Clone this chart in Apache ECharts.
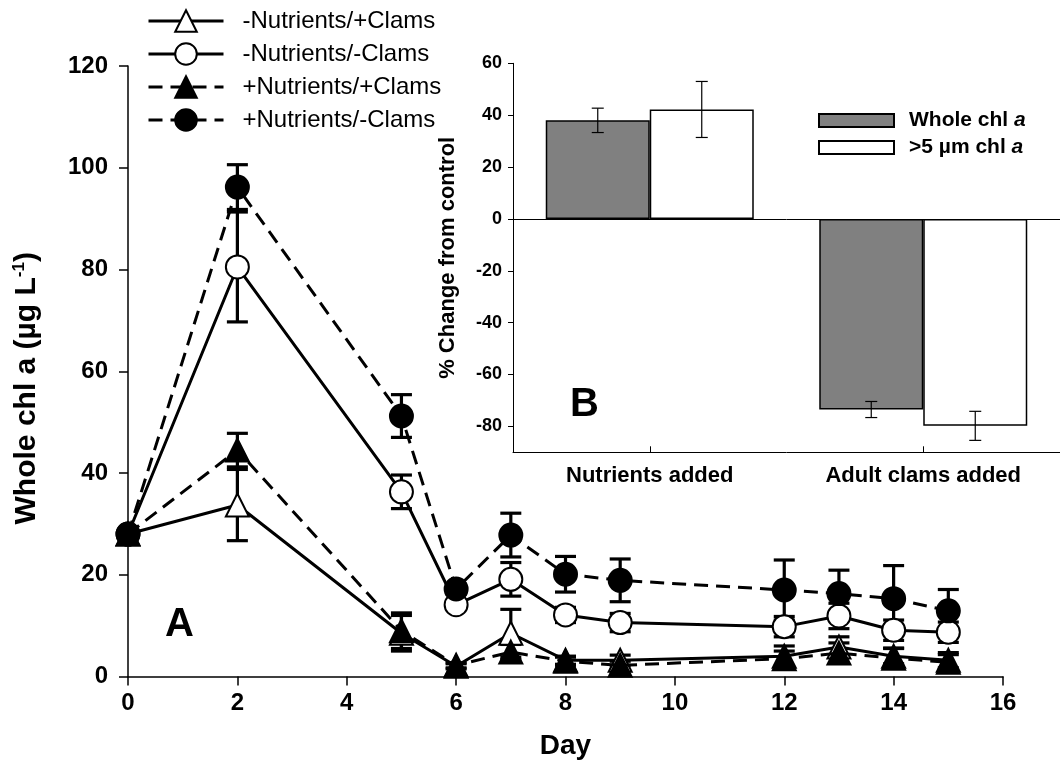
<!DOCTYPE html>
<html><head><meta charset="utf-8">
<script src="https://cdn.jsdelivr.net/npm/echarts@6/dist/echarts.min.js"></script>
<style>html,body{margin:0;padding:0;background:#fff}#c{width:1060px;height:780px}</style>
</head><body><div id="c"></div>
<script>
// ---- Panel A data ----
const days = [0, 2, 5, 6, 7, 8, 9, 12, 13, 14, 15];
const seriesNames = ['-Nutrients/+Clams', '-Nutrients/-Clams', '+Nutrients/+Clams', '+Nutrients/-Clams'];
const meanNoNutClams   = [28, 33.7, 8.5, 2.0, 8.5, 3.2, 3.2, 4.0, 5.8, 4.0, 3.2];
const seNoNutClams     = [0.5, 7.0, 3.5, 0.5, 4.7, 0.8, 1.0, 2.0, 2.0, 1.5, 1.5];
const meanNoNutNoClams = [28, 80.5, 36.3, 14.1, 19.1, 12.1, 10.6, 9.8, 11.9, 9.1, 8.7];
const seNoNutNoClams   = [0.5, 10.8, 3.3, 0.8, 3.3, 1.5, 1.8, 2.0, 2.5, 2.0, 2.0];
const meanNutClams     = [28, 44.5, 9.0, 2.2, 4.8, 3.0, 2.2, 3.5, 4.6, 3.6, 2.8];
const seNutClams       = [0.5, 3.3, 3.5, 0.5, 1.5, 0.8, 0.8, 1.5, 2.0, 2.0, 1.5];
const meanNutNoClams   = [28, 96.2, 51.2, 17.2, 27.8, 20.1, 18.9, 17.0, 16.3, 15.3, 12.9];
const seNutNoClams     = [0.5, 4.4, 4.2, 1.0, 4.3, 3.5, 4.2, 5.9, 4.6, 6.5, 4.2];

// ---- Panel B data ----
const barCategories = ['Nutrients added', 'Adult clams added'];
const barNames = ['Whole chl a', '>5 µm chl a'];
const wholeChl   = [38.0, -73.5];
const wholeChlSE = [4.7, 3.1];
const bigChl     = [42.2, -79.8];
const bigChlSE   = [10.8, 5.6];
const insetTicks = [-80, -60, -40, -20, 0, 20, 40, 60];

const FONT = 'Liberation Sans, Arial, sans-serif';
const BAR_W = 104;

const chart = echarts.init(document.getElementById('c'), null, {renderer: 'canvas'});

function lineData(mean) { return days.map((d, i) => [d, mean[i]]); }
function errData(mean, se) { return days.map((d, i) => [d, mean[i] - se[i], mean[i] + se[i]]); }

function errRender(capHalf, lw, offset) {
  return function (params, api) {
    const x = api.value(0), lo = api.value(1), hi = api.value(2);
    const p1 = api.coord([x, lo]), p2 = api.coord([x, hi]);
    const cx = p1[0] + offset;
    const st = {stroke: '#000', lineWidth: lw};
    return {type: 'group', children: [
      {type: 'line', shape: {x1: cx, y1: p1[1], x2: cx, y2: p2[1]}, style: st},
      {type: 'line', shape: {x1: cx - capHalf, y1: p1[1], x2: cx + capHalf, y2: p1[1]}, style: st},
      {type: 'line', shape: {x1: cx - capHalf, y1: p2[1], x2: cx + capHalf, y2: p2[1]}, style: st}
    ]};
  };
}

const means = [meanNoNutClams, meanNoNutNoClams, meanNutClams, meanNutNoClams];
const ses = [seNoNutClams, seNoNutNoClams, seNutClams, seNutNoClams];
const symbols = ['triangle', 'circle', 'triangle', 'circle'];
const fills = ['#fff', '#fff', '#000', '#000'];
const dashes = ['solid', 'solid', [14, 8], [14, 8]];

const series = [];
means.forEach((m, k) => {
  series.push({
    type: 'custom', xAxisIndex: 0, yAxisIndex: 0, z: 1, silent: true,
    renderItem: errRender(10.5, 3.2, 0),
    data: errData(m, ses[k]), encode: {x: 0, y: [1, 2]}
  });
});
means.forEach((m, k) => {
  series.push({
    name: seriesNames[k], type: 'line', xAxisIndex: 0, yAxisIndex: 0, z: 2 + k,
    data: lineData(m),
    symbol: symbols[k], symbolSize: 23, showAllSymbol: true,
    lineStyle: {color: '#000', width: 3, type: dashes[k]},
    itemStyle: {color: fills[k], borderColor: '#000', borderWidth: 2},
    emphasis: {disabled: true}, animation: false
  });
});

series.push({
  name: barNames[0], type: 'bar', xAxisIndex: 1, yAxisIndex: 1,
  data: wholeChl, barWidth: BAR_W, barGap: '0%',
  itemStyle: {color: '#808080', borderColor: '#000', borderWidth: 1.5},
  markLine: {silent: true, symbol: 'none', label: {show: false},
    lineStyle: {color: '#000', width: 1, type: 'solid'}, data: [{yAxis: 0}]},
  animation: false
});
series.push({
  name: barNames[1], type: 'bar', xAxisIndex: 1, yAxisIndex: 1,
  data: bigChl, barWidth: BAR_W, barGap: '0%',
  itemStyle: {color: '#fff', borderColor: '#000', borderWidth: 1.5},
  animation: false
});
series.push({
  type: 'custom', xAxisIndex: 1, yAxisIndex: 1, z: 5, silent: true,
  renderItem: errRender(6, 1.2, -BAR_W / 2),
  data: barCategories.map((c, i) => [i, wholeChl[i] - wholeChlSE[i], wholeChl[i] + wholeChlSE[i]]),
  encode: {x: 0, y: [1, 2]}
});
series.push({
  type: 'custom', xAxisIndex: 1, yAxisIndex: 1, z: 5, silent: true,
  renderItem: errRender(6, 1.2, BAR_W / 2),
  data: barCategories.map((c, i) => [i, bigChl[i] - bigChlSE[i], bigChl[i] + bigChlSE[i]]),
  encode: {x: 0, y: [1, 2]}
});

const option = {
  animation: false,
  backgroundColor: '#fff',
  textStyle: {fontFamily: FONT, color: '#000'},
  grid: [
    {left: 128, top: 66, width: 875, height: 610.5, containLabel: false},
    {left: 513, top: 63.3, width: 556, height: 389, containLabel: false}
  ],
  legend: [
    {
      data: seriesNames, orient: 'vertical', left: 147, top: 9,
      itemWidth: 75, itemHeight: 27, itemGap: 9, padding: 0,
      lineStyle: {width: 3},
      textStyle: {fontFamily: FONT, fontSize: 24, color: '#000', padding: [0, 0, 0, 14]},
      selectedMode: false
    },
    {
      data: barNames, orient: 'vertical', left: 818, top: 110,
      itemWidth: 75, itemHeight: 13, itemGap: 6, padding: 0, icon: 'rect',
      selectedMode: false,
      formatter: function (n) { return n === barNames[0] ? '{t|Whole chl }{i|a}' : '{t|>5 µm chl }{i|a}'; },
      textStyle: {fontFamily: FONT, color: '#000', padding: [0, 0, 0, 10],
        rich: {t: {fontFamily: FONT, fontWeight: 'bold', fontSize: 21, lineHeight: 23, color: '#000'},
               i: {fontFamily: FONT, fontWeight: 'bold', fontStyle: 'italic', fontSize: 21, lineHeight: 23, color: '#000'}}}
    }
  ],
  xAxis: [
    {
      type: 'value', gridIndex: 0, min: 0, max: 16, interval: 2,
      name: 'Day', nameLocation: 'middle', nameGap: 56,
      nameTextStyle: {fontFamily: FONT, fontWeight: 'bold', fontSize: 28, color: '#000'},
      axisLine: {onZero: false, lineStyle: {color: '#000', width: 1.5}},
      axisTick: {show: true, length: 9, lineStyle: {color: '#000', width: 1.5}},
      axisLabel: {fontFamily: FONT, fontWeight: 'bold', fontSize: 24, color: '#000', margin: 15},
      splitLine: {show: false}
    },
    {
      type: 'category', gridIndex: 1, data: barCategories, position: 'bottom',
      axisLine: {onZero: false, lineStyle: {color: '#000', width: 1}},
      axisTick: {show: true, alignWithLabel: true, inside: true, length: 6, lineStyle: {color: '#000', width: 1}},
      axisLabel: {fontFamily: FONT, fontWeight: 'bold', fontSize: 22, color: '#000', margin: 13},
      splitLine: {show: false}
    }
  ],
  yAxis: [
    {
      type: 'value', gridIndex: 0, min: 0, max: 120, interval: 20,
      name: '{n|Whole chl a (µg L}{s|-1}{n|)}', nameLocation: 'middle', nameGap: 85,
      nameTextStyle: {fontFamily: FONT, color: '#000', padding: [0, 34, 0, 0],
        rich: {n: {fontFamily: FONT, fontWeight: 'bold', fontSize: 30, color: '#000'},
               s: {fontFamily: FONT, fontWeight: 'bold', fontSize: 17, color: '#000', padding: [0, 0, 15, 0]}}},
      axisLine: {show: true, onZero: false, lineStyle: {color: '#000', width: 1.5}},
      axisTick: {show: true, length: 9, lineStyle: {color: '#000', width: 1.5}},
      axisLabel: {fontFamily: FONT, fontWeight: 'bold', fontSize: 24, color: '#000', margin: 20},
      splitLine: {show: false}
    },
    {
      type: 'value', gridIndex: 1, min: -90, max: 60,
      name: '% Change from control', nameLocation: 'middle', nameGap: 54,
      nameTextStyle: {fontFamily: FONT, fontWeight: 'bold', fontSize: 22, color: '#000'},
      axisLine: {show: true, onZero: false, lineStyle: {color: '#000', width: 1}},
      axisTick: {show: true, length: 5, customValues: insetTicks, lineStyle: {color: '#000', width: 1}},
      axisLabel: {fontFamily: FONT, fontWeight: 'bold', fontSize: 18, color: '#000', margin: 11, customValues: insetTicks},
      splitLine: {show: false}
    }
  ],
  graphic: [
    {type: 'text', left: 165, top: 605, style: {text: 'A', font: 'bold 40px ' + FONT, fill: '#000'}},
    {type: 'text', left: 570, top: 385, style: {text: 'B', font: 'bold 40px ' + FONT, fill: '#000'}}
  ],
  series: series
};
chart.setOption(option);
</script>
</body></html>
